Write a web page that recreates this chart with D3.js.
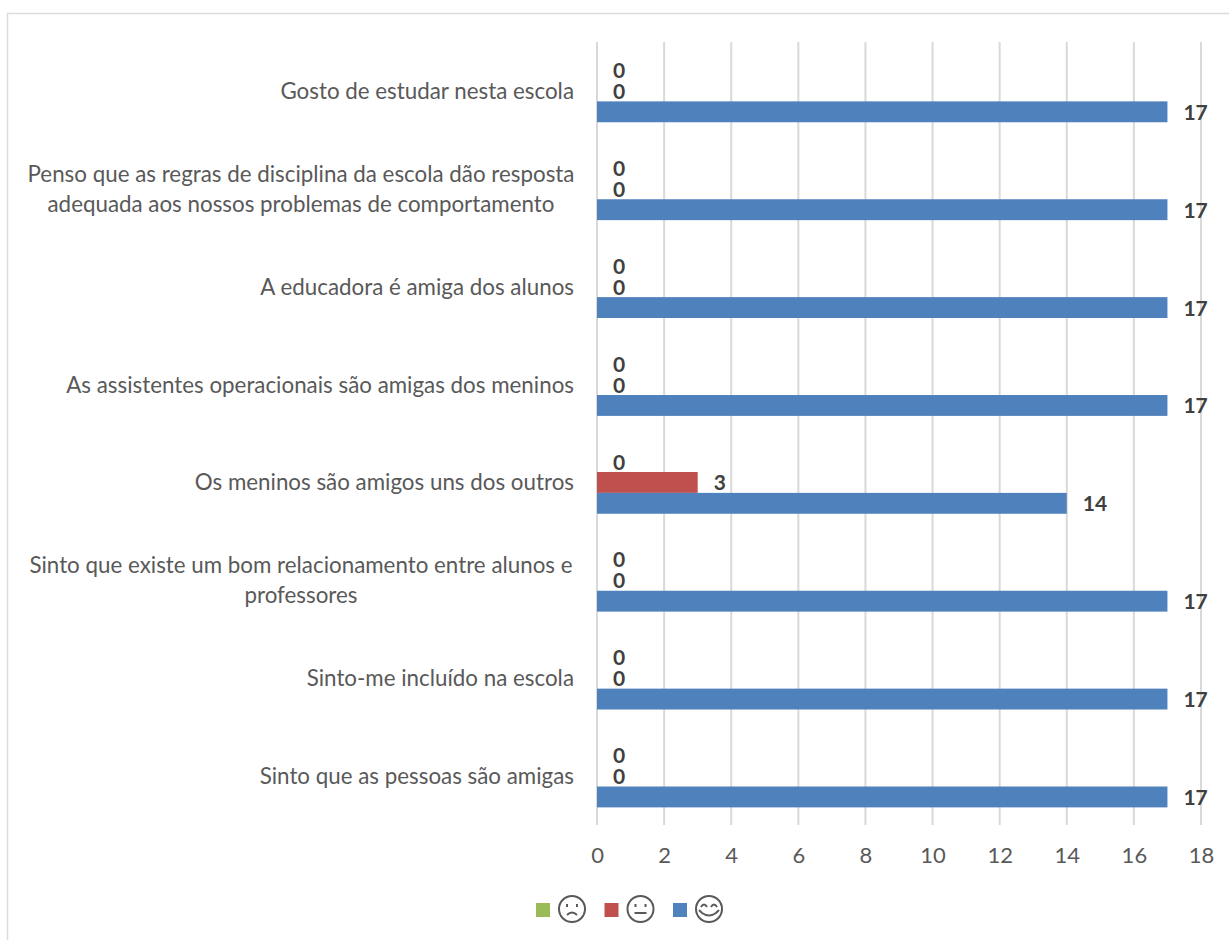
<!DOCTYPE html>
<html>
<head>
<meta charset="utf-8">
<script src="https://cdn.jsdelivr.net/npm/d3@7"></script>
<style>
  html, body { margin: 0; padding: 0; background: #fff; }
  svg { display: block; font-family: Lato, sans-serif; }
</style>
</head>
<body>
<div id="chart"></div>
<script>
// Categories, top to bottom
const categories = [
    "Gosto de estudar nesta escola",
    "Penso que as regras de disciplina da escola dão resposta\nadequada aos nossos problemas de comportamento",
    "A educadora é amiga dos alunos",
    "As assistentes operacionais são amigas dos meninos",
    "Os meninos são amigos uns dos outros",
    "Sinto que existe um bom relacionamento entre alunos e\nprofessores",
    "Sinto-me incluído na escola",
    "Sinto que as pessoas são amigas"
];

// Series values, same order as categories
const triste = [0, 0, 0, 0, 0, 0, 0, 0];
const neutro = [0, 0, 0, 0, 3, 0, 0, 0];
const feliz = [17, 17, 17, 17, 14, 17, 17, 17];

const seriesNames = ["triste", "neutro", "feliz"];
const seriesColors = ["#9bbb59", "#c0504d", "#4f81bd"];
const xTicks = [0, 2, 4, 6, 8, 10, 12, 14, 16, 18];

const W = 1229, H = 940;
const margin = { top: 42, right: 28, bottom: 115, left: 597 };
const width = W - margin.left - margin.right;
const height = H - margin.top - margin.bottom;

const svg = d3.select("#chart").append("svg")
    .attr("width", W)
    .attr("height", H);

// Chart frame, runs off the right and bottom of the picture
svg.append("rect")
    .attr("x", 7.5)
    .attr("y", 13.5)
    .attr("width", W)
    .attr("height", H)
    .attr("fill", "#fff")
    .attr("stroke", "#dcdcdc")
    .attr("stroke-width", 1.5);

const g = svg.append("g")
    .attr("transform", `translate(${margin.left},${margin.top})`);

const x = d3.scaleLinear().domain([0, 18]).range([0, width]);
const y = d3.scaleBand().domain(categories).range([0, height]);
// Three bars in the middle of each band
const yBar = d3.scaleBand().domain(seriesNames).range([y.bandwidth() * 0.18, y.bandwidth() * 0.82]);

// Vertical gridlines and tick labels
const xAxis = g.append("g")
    .attr("transform", `translate(0,${height})`)
    .call(d3.axisBottom(x).tickValues(xTicks).tickSize(0).tickPadding(22));
xAxis.select(".domain").remove();
xAxis.selectAll("text")
    .attr("font-family", "Lato, sans-serif")
    .attr("font-size", 22)
    .attr("fill", "#595959");

g.selectAll(".grid")
    .data(xTicks)
    .enter().append("line")
    .attr("class", "grid")
    .attr("x1", d => x(d))
    .attr("x2", d => x(d))
    .attr("y1", 0)
    .attr("y2", height)
    .attr("stroke", "#d9d9d9")
    .attr("stroke-width", 2);

// Category labels: one liners sit against the axis, two liners are centred on each other
const labels = g.append("g").selectAll("text")
    .data(categories)
    .enter().append("text")
    .attr("font-size", 22.35)
    .attr("fill", "#595959");

labels.each(function (d) {
    const lines = d.split("\n");
    const mid = y(d) + y.bandwidth() / 2;
    d3.select(this).selectAll("tspan")
        .data(lines)
        .enter().append("tspan")
        .attr("x", lines.length > 1 ? -296 : -23)
        .attr("y", (l, i) => mid + 8 + (i - (lines.length - 1) / 2) * 30)
        .attr("text-anchor", lines.length > 1 ? "middle" : "end")
        .text(l => l);
});

// Bars and data labels for each series
[triste, neutro, feliz].forEach((values, s) => {
    const name = seriesNames[s];
    const rows = categories.map((c, i) => ({ c, v: values[i] }));

    g.append("g").selectAll("rect")
        .data(rows)
        .enter().append("rect")
        .attr("x", 0)
        .attr("y", d => y(d.c) + yBar(name))
        .attr("width", d => x(d.v))
        .attr("height", yBar.bandwidth())
        .attr("fill", seriesColors[s]);

    g.append("g").selectAll("text")
        .data(rows)
        .enter().append("text")
        .attr("x", d => x(d.v) + 16)
        .attr("y", d => y(d.c) + yBar(name) + yBar.bandwidth() / 2 + 8)
        .attr("font-size", 21)
        .attr("font-weight", "bold")
        .attr("fill", "#404040")
        .text(d => d.v);
});

// Legend: square swatch plus a drawn face
const legendX = d3.scalePoint().domain(seriesNames).range([536, 673]);
const legend = svg.selectAll(".legend")
    .data(seriesNames)
    .enter().append("g")
    .attr("class", "legend")
    .attr("transform", d => `translate(${legendX(d)},910)`);

legend.append("rect")
    .attr("x", 0)
    .attr("y", -7)
    .attr("width", 14)
    .attr("height", 14)
    .attr("fill", (d, i) => seriesColors[i]);

const face = legend.append("g")
    .attr("transform", "translate(36,-1)")
    .attr("fill", "none")
    .attr("stroke", "#595959")
    .attr("stroke-width", 2);

face.append("circle").attr("r", 13);

const eyes = { triste: "M-5,-5v3M5,-5v3", neutro: "M-5,-5v3M5,-5v3", feliz: "M-8,-2q3,-5 6,0M2,-2q3,-5 6,0" };
const mouth = { triste: "M-5,6q5,-5 10,0", neutro: "M-6,4h12", feliz: "M-10,1q2,2 3,3q7,5 14,0q1,-1 3,-3" };

face.append("path").attr("d", d => eyes[d]);
face.append("path").attr("d", d => mouth[d]);
</script>
</body>
</html>
